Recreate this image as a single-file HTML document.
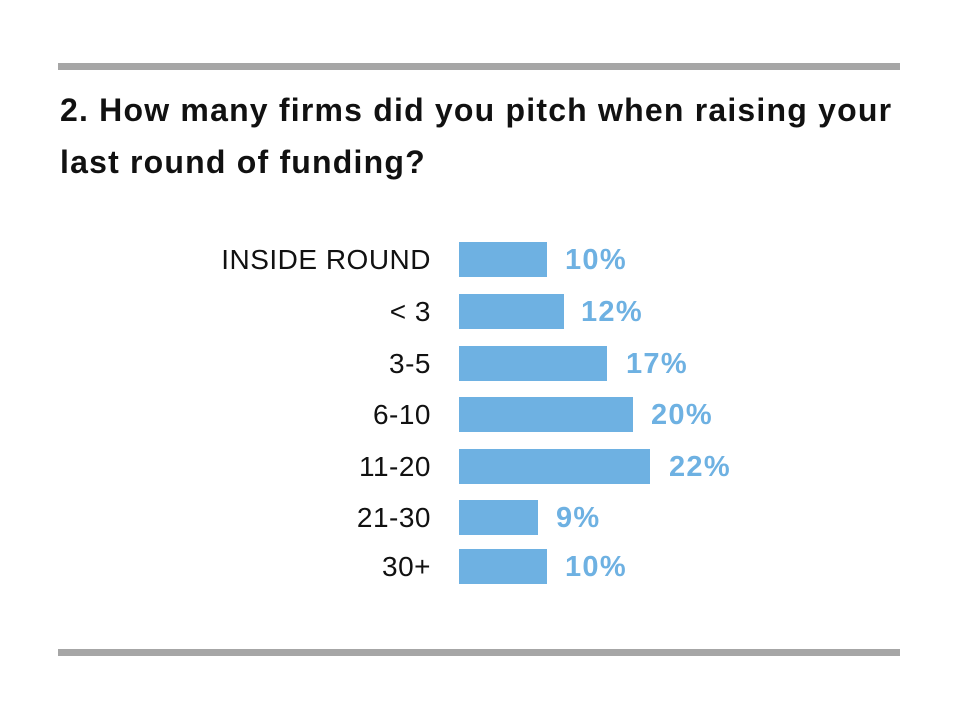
<!DOCTYPE html>
<html><head><style>
body{margin:0;width:959px;height:720px;background:#fff;position:relative;font-family:"Liberation Sans",sans-serif;overflow:hidden}
.rule{position:absolute;left:58px;width:842px;height:7px;background:#a6a6a6}
.t{position:absolute;left:60px;font-weight:bold;font-size:32px;letter-spacing:1.2px;color:#111;line-height:52px;white-space:nowrap}
.l{position:absolute;right:528px;font-size:28px;letter-spacing:0.5px;color:#111;height:36px;line-height:36px;text-align:right;white-space:nowrap}
.b{position:absolute;left:459px;height:35px;background:#6eb1e2}
.p{position:absolute;font-size:29px;letter-spacing:1.3px;font-weight:bold;color:#6eb1e2;height:36px;line-height:36px}
</style></head><body>
<div class="rule" style="top:63px"></div>
<div class="t" style="top:84px">2. How many firms did you pitch when raising your</div>
<div class="t" style="top:136px">last round of funding?</div>
<div class="rule" style="top:649px"></div>

<div class="l" style="top:242px">INSIDE ROUND</div><div class="b" style="top:242px;width:88px"></div><div class="p" style="top:242px;left:565px">10%</div>
<div class="l" style="top:294px">&lt; 3</div><div class="b" style="top:294px;width:105px"></div><div class="p" style="top:294px;left:581px">12%</div>
<div class="l" style="top:346px">3-5</div><div class="b" style="top:346px;width:148px"></div><div class="p" style="top:346px;left:626px">17%</div>
<div class="l" style="top:397px">6-10</div><div class="b" style="top:397px;width:174px"></div><div class="p" style="top:397px;left:651px">20%</div>
<div class="l" style="top:449px">11-20</div><div class="b" style="top:449px;width:191px"></div><div class="p" style="top:449px;left:669px">22%</div>
<div class="l" style="top:500px">21-30</div><div class="b" style="top:500px;width:79px"></div><div class="p" style="top:500px;left:556px">9%</div>
<div class="l" style="top:549px">30+</div><div class="b" style="top:549px;width:88px"></div><div class="p" style="top:549px;left:565px">10%</div>
</body></html>
